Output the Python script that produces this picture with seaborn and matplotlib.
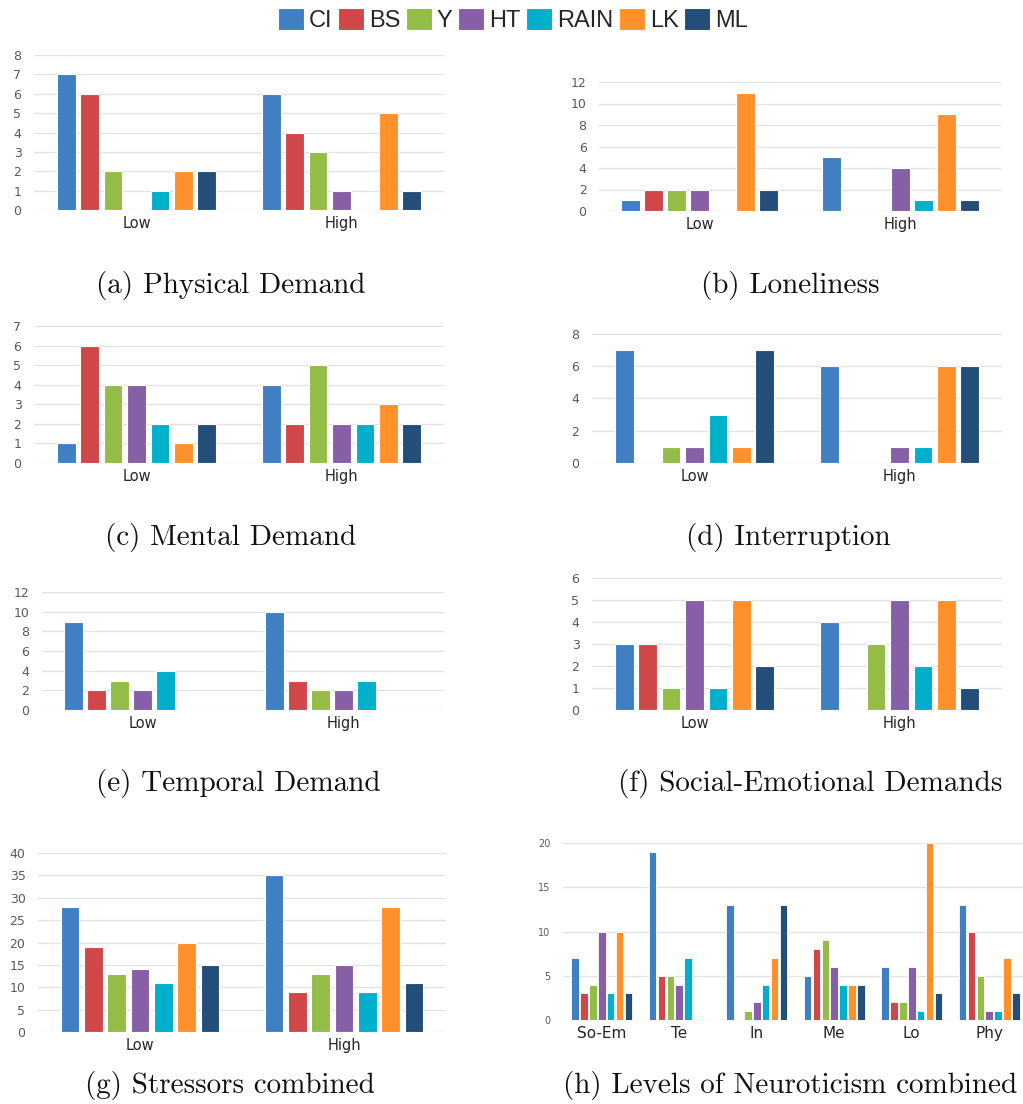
import matplotlib
matplotlib.use("Agg")
import matplotlib.pyplot as plt
import seaborn as sns
import pandas as pd
from matplotlib.patches import Patch

# Device / method series
methods = ["CI", "BS", "Y", "HT", "RAIN", "LK", "ML"]
colors = ["#4080C2", "#D0474A", "#93BD47", "#875FA6", "#00AFCA", "#FF912C", "#224E79"]
levels = ["Low", "High"]

# Counts per stressor level (Low, High) for each method
physical_low = [7, 6, 2, 0, 1, 2, 2]
physical_high = [6, 4, 3, 1, 0, 5, 1]
loneliness_low = [1, 2, 2, 2, 0, 11, 2]
loneliness_high = [5, 0, 0, 4, 1, 9, 1]
mental_low = [1, 6, 4, 4, 2, 1, 2]
mental_high = [4, 2, 5, 2, 2, 3, 2]
interruption_low = [7, 0, 1, 1, 3, 1, 7]
interruption_high = [6, 0, 0, 1, 1, 6, 6]
temporal_low = [9, 2, 3, 2, 4, 0, 0]
temporal_high = [10, 3, 2, 2, 3, 0, 0]
social_low = [3, 3, 1, 5, 1, 5, 2]
social_high = [4, 0, 3, 5, 2, 5, 1]
combined_low = [28, 19, 13, 14, 11, 20, 15]
combined_high = [35, 9, 13, 15, 9, 28, 11]

# Neuroticism levels combined, per stressor
neuro_cats = ["So-Em", "Te", "In", "Me", "Lo", "Phy"]
neuro_so_em = [7, 3, 4, 10, 3, 10, 3]
neuro_te = [19, 5, 5, 4, 7, 0, 0]
neuro_in = [13, 0, 1, 2, 4, 7, 13]
neuro_me = [5, 8, 9, 6, 4, 4, 4]
neuro_lo = [6, 2, 2, 6, 1, 20, 3]
neuro_phy = [13, 10, 5, 1, 1, 7, 3]

W, H = 1023, 1104
sns.set_theme(style="white")
fig = plt.figure(figsize=(W / 100, H / 100), dpi=100)
fig.patch.set_facecolor("white")

GRID = "#E2E2E2"
TICK = "#595959"


def long_frame(cats, series):
    rows = []
    for cat, vals in zip(cats, series):
        for m, v in zip(methods, vals):
            rows.append({"cat": cat, "method": m, "count": v})
    return pd.DataFrame(rows)


def panel(px, cats, series, ymax, ystep, caption, cap_xy,
          tick_fs=9, cat_fs=10.5, gap=0.2, lw=0.8):
    left, top, right, bottom = px
    ax = fig.add_axes([left / W, 1 - bottom / H, (right - left) / W, (bottom - top) / H])
    df = long_frame(cats, series)
    sns.barplot(data=df, x="cat", y="count", hue="method", order=cats,
                hue_order=methods, palette=colors, width=0.8, gap=gap,
                edgecolor="white", linewidth=lw, saturation=1,
                errorbar=None, legend=False, ax=ax, zorder=3)
    for p in ax.patches:
        if p.get_height() == 0:
            p.set_visible(False)
    ax.set_ylim(0, ymax)
    ax.set_yticks(range(0, ymax + 1, ystep))
    ax.set_xlim(-0.5, len(cats) - 0.5)
    ax.grid(axis="y", color=GRID, linewidth=1.0, zorder=0)
    ax.grid(axis="x", visible=False)
    for s in ax.spines.values():
        s.set_visible(False)
    ax.tick_params(axis="y", length=0, pad=9, labelsize=tick_fs, labelcolor=TICK)
    ax.tick_params(axis="x", length=0, pad=4, labelsize=cat_fs, labelcolor="#262626")
    for t in ax.get_yticklabels():
        t.set_fontfamily("DejaVu Sans")
    for t in ax.get_xticklabels():
        t.set_fontfamily("DejaVu Sans")
    ax.set_xlabel("")
    ax.set_ylabel("")
    ax.set_facecolor("white")
    fig.text(cap_xy[0] / W, 1 - cap_xy[1] / H, caption, ha="center", va="center",
             fontsize=21, family="cmr10", color="#111111")
    return ax


panel((34, 55, 444, 210), levels, [physical_low, physical_high], 8, 1,
      "(a) Physical Demand", (231, 285))
panel((599, 82, 1001, 211), levels, [loneliness_low, loneliness_high], 12, 2,
      "(b) Loneliness", (790, 285))
panel((34, 326, 444, 463), levels, [mental_low, mental_high], 7, 1,
      "(c) Mental Demand", (231, 537))
panel((592, 334, 1002, 463), levels, [interruption_low, interruption_high], 8, 2,
      "(d) Interruption", (788, 537))
panel((42, 592, 444, 710), levels, [temporal_low, temporal_high], 12, 2,
      "(e) Temporal Demand", (238, 783))
panel((592, 578, 1002, 710), levels, [social_low, social_high], 6, 1,
      "(f) Social-Emotional Demands", (810, 783))
panel((38, 853, 446, 1032), levels, [combined_low, combined_high], 40, 5,
      "(g) Stressors combined", (230, 1086))
panel((563, 843, 1028, 1020), neuro_cats,
      [neuro_so_em, neuro_te, neuro_in, neuro_me, neuro_lo, neuro_phy], 20, 5,
      "(h) Levels of Neuroticism combined", (790, 1086),
      tick_fs=7, cat_fs=11, gap=0.15, lw=0.6)

handles = [Patch(facecolor=c, edgecolor="white", linewidth=0.8) for c in colors]
leg = fig.legend(handles, methods, loc="center", bbox_to_anchor=(513 / W, 1 - 20 / H),
                 ncol=7, frameon=False, handlelength=1.1, handleheight=1.1,
                 handletextpad=0.2, columnspacing=0.25,
                 prop={"family": "Liberation Sans", "size": 17})

fig.savefig("out.png", dpi=100, facecolor="white")
